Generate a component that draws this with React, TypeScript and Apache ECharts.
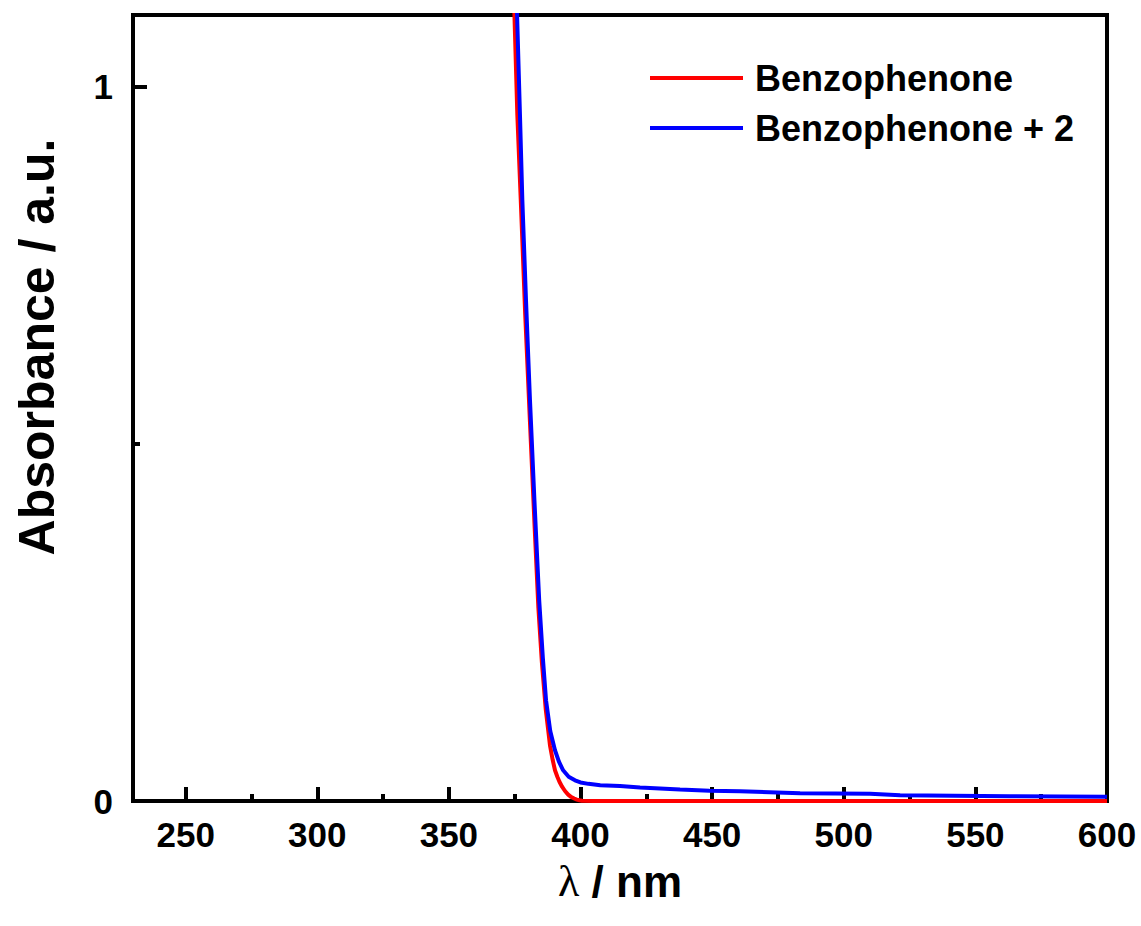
import React, { useEffect, useRef } from "react";
import * as echarts from "echarts";

// Wavelength (nm) and absorbance samples for each spectrum
const benzoWavelength = [
  374.2, 374.9, 376.0, 377.3, 379.0, 380.8, 382.6, 384.0, 385.3, 386.8, 388.4,
  389.4, 390.3, 391.2, 392.0, 393.0, 394.1, 395.3, 396.5, 397.6, 398.6, 399.6,
  400.5, 405, 420, 450, 500, 550, 600,
];
const benzoAbs = [
  1.22, 1.1, 0.96, 0.841, 0.68, 0.53, 0.381, 0.27, 0.195, 0.128, 0.078,
  0.058, 0.043, 0.034, 0.027, 0.02, 0.014, 0.009, 0.0055, 0.0035, 0.002, 0.001,
  0.0004, 0, 0, 0, 0, 0, 0,
];

const mixWavelength = [
  375.0, 375.9, 377.0, 377.9, 379.3, 380.8, 382.5, 384.3, 385.7, 386.9, 388.5,
  390.3, 391.8, 393.4, 395.5, 397.9, 400.0, 403.0, 407.5, 415.0, 422.6, 437.8,
  449.0, 460.6, 483.4, 510.0, 521.4, 563.0, 600.0,
];
const mixAbs = [
  1.22, 1.1, 0.96, 0.841, 0.7, 0.561, 0.42, 0.281, 0.2, 0.141, 0.098,
  0.071, 0.055, 0.043, 0.034, 0.029, 0.026, 0.024, 0.022, 0.021, 0.019, 0.016,
  0.0145, 0.0136, 0.0108, 0.0103, 0.008, 0.0066, 0.006,
];

const seriesNames = ["Benzophenone", "Benzophenone + 2"];
const seriesColors = ["#ff0000", "#0000ff"];

// Axis ranges and tick positions
const xRange = [230, 600];
const yRange = [0, 1.1];
const xMajorTicks = [250, 300, 350, 400, 450, 500, 550, 600];
const xMinorTicks = [275, 325, 375, 425, 475, 525, 575];
const yMajorTicks = [0, 1];
const yMinorTicks = [0.5];

const yTitle = "Absorbance / a.u.";

const SANS = "Liberation Sans, Arial, sans-serif";

export default function App() {
  const ref = useRef<HTMLDivElement>(null);

  useEffect(() => {
    if (!ref.current) return;
    const chart = echarts.init(ref.current, undefined, { renderer: "svg" });

    const pair = (xs: number[], ys: number[]) => xs.map((x, i) => [x, ys[i]]);

    const baseAxisLabel = {
      color: "#000",
      fontFamily: SANS,
      fontWeight: "bold" as const,
      fontSize: 35,
    };

    chart.setOption({
      animation: false,
      backgroundColor: "#fff",
      grid: {
        left: 133,
        right: 34,
        top: 15,
        bottom: 125,
        show: true,
        borderColor: "#000",
        borderWidth: 4,
        containLabel: false,
        outerBoundsMode: "none",
      },
      legend: {
        orient: "vertical",
        left: 650,
        top: 58,
        padding: 0,
        itemWidth: 93,
        itemHeight: 4,
        itemGap: 10,
        icon: "rect",
        data: seriesNames,
        textStyle: {
          color: "#000",
          fontFamily: SANS,
          fontWeight: "bold",
          fontSize: 36,
          lineHeight: 40,
          padding: [0, 0, 0, 7],
        },
      },
      xAxis: [
        {
          type: "value",
          min: xRange[0],
          max: xRange[1],
          position: "bottom",
          name: `{l|λ}{b| / nm}`,
          nameLocation: "middle",
          nameGap: 58,
          nameTextStyle: {
            rich: {
              l: { fontFamily: "Liberation Serif, serif", fontSize: 44, color: "#000" },
              b: { fontFamily: SANS, fontWeight: "bold", fontSize: 44, color: "#000" },
            },
          },
          axisLine: { show: true, onZero: false, lineStyle: { color: "#000", width: 4 } },
          axisTick: {
            show: true,
            inside: true,
            length: 14,
            customValues: xMajorTicks,
            lineStyle: { color: "#000", width: 4 },
          },
          axisLabel: { ...baseAxisLabel, margin: 16, customValues: xMajorTicks },
          splitLine: { show: false },
        },
        {
          type: "value",
          min: xRange[0],
          max: xRange[1],
          position: "bottom",
          axisLine: { show: false },
          axisTick: {
            show: true,
            inside: true,
            length: 7,
            customValues: xMinorTicks,
            lineStyle: { color: "#000", width: 4 },
          },
          axisLabel: { show: false },
          splitLine: { show: false },
        },
      ],
      yAxis: [
        {
          type: "value",
          min: yRange[0],
          max: yRange[1],
          position: "left",
          axisLine: { show: true, onZero: false, lineStyle: { color: "#000", width: 4 } },
          axisTick: {
            show: true,
            inside: true,
            length: 14,
            customValues: yMajorTicks,
            lineStyle: { color: "#000", width: 4 },
          },
          axisLabel: { ...baseAxisLabel, margin: 20, customValues: yMajorTicks },
          splitLine: { show: false },
        },
        {
          type: "value",
          min: yRange[0],
          max: yRange[1],
          position: "left",
          axisLine: { show: false },
          axisTick: {
            show: true,
            inside: true,
            length: 7,
            customValues: yMinorTicks,
            lineStyle: { color: "#000", width: 4 },
          },
          axisLabel: { show: false },
          splitLine: { show: false },
        },
      ],
      graphic: [
        {
          type: "text",
          x: 37,
          y: 347,
          rotation: Math.PI / 2,
          style: {
            text: yTitle,
            fill: "#000",
            font: `bold 50px ${SANS}`,
            align: "center",
            verticalAlign: "middle",
          },
        },
      ],
      series: [
        {
          name: seriesNames[0],
          type: "line",
          data: pair(benzoWavelength, benzoAbs),
          showSymbol: false,
          clip: true,
          color: seriesColors[0],
          lineStyle: { color: seriesColors[0], width: 4 },
          z: 3,
        },
        {
          name: seriesNames[1],
          type: "line",
          data: pair(mixWavelength, mixAbs),
          showSymbol: false,
          clip: true,
          color: seriesColors[1],
          lineStyle: { color: seriesColors[1], width: 4 },
          z: 4,
        },
      ],
    });

    return () => chart.dispose();
  }, []);

  return (
    <div
      ref={ref}
      style={{ position: "absolute", left: 0, top: 0, width: 1141, height: 926 }}
    />
  );
}
